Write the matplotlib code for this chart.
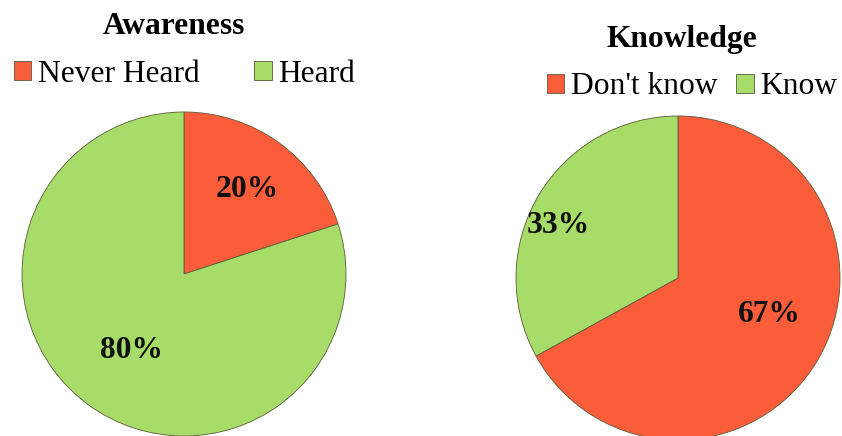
import numpy as np
import matplotlib.pyplot as plt

plt.rcParams["font.family"] = ["Liberation Serif", "DejaVu Serif"]

aware_labels = ["Never Heard", "Heard"]
aware_values = [20, 80]
know_labels = ["Don't know", "Know"]
know_values = [67, 33]

red = "#FB5D3B"
green = "#A8DC68"
colors = [red, green]

W, H = 842, 436
FS = 22.7
fig = plt.figure(figsize=(W / 100, H / 100), dpi=100)


def px_axes(cx, cy, r):
    # axes box from a pixel centre / radius (top-left origin)
    return fig.add_axes([(cx - r) / W, (H - cy - r) / H, 2 * r / W, 2 * r / H])


def draw_pie(ax, values, dist, shift):
    wedges, _ = ax.pie(values, colors=colors, startangle=90, counterclock=False,
                       wedgeprops=dict(edgecolor="#5a5a3a", linewidth=0.6))
    for w, v, d, s in zip(wedges, values, dist, shift):
        ang = np.deg2rad((w.theta1 + w.theta2) / 2 + s)
        ax.text(d * np.cos(ang), d * np.sin(ang) - 0.015, f"{v}%", ha="center", va="center",
                fontsize=FS, fontweight="bold", color="#111111")
    ax.set_xlim(-1, 1)
    ax.set_ylim(-1, 1)
    ax.set_aspect("equal")
    return wedges


ax1 = px_axes(184, 274, 162)
w1 = draw_pie(ax1, aware_values, [0.66, 0.56], [0, 1])
ax2 = px_axes(678, 278, 162)
w2 = draw_pie(ax2, know_values, [0.6, 0.81], [10, 6])

fig.text(174 / W, 1 - 27 / H, "Awareness", ha="center", va="center",
         fontsize=FS, fontweight="bold")
fig.text(682 / W, 1 - 40 / H, "Knowledge", ha="center", va="center",
         fontsize=FS, fontweight="bold")

leg_kw = dict(ncol=2, frameon=False, fontsize=FS, handlelength=0.55,
              handleheight=0.55, handletextpad=0.2, borderaxespad=0, borderpad=0)
fig.legend(w1, aware_labels, loc="center left", bbox_to_anchor=(14 / W, 1 - 74 / H),
           columnspacing=1.75, **leg_kw)
fig.legend(w2, know_labels, loc="center left", bbox_to_anchor=(547 / W, 1 - 87 / H),
           columnspacing=0.6, **leg_kw)

fig.savefig("out.png", dpi=100)
